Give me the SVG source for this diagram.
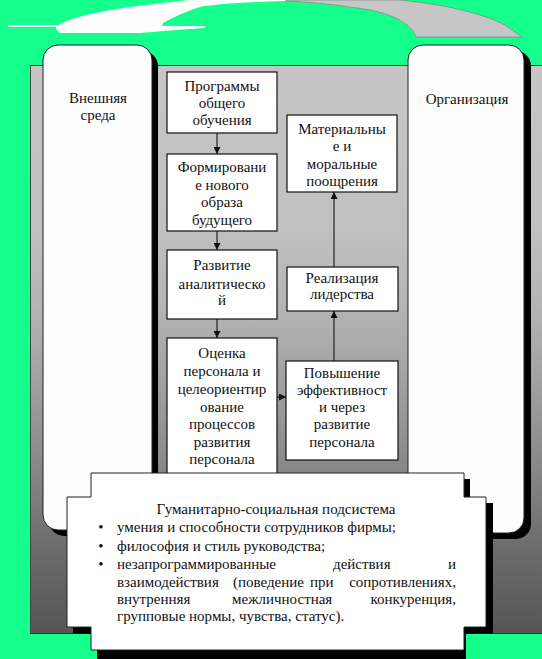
<svg xmlns="http://www.w3.org/2000/svg" width="542" height="659" viewBox="0 0 542 659">
<defs>
<linearGradient id="gr" gradientUnits="userSpaceOnUse" x1="0" y1="65" x2="0" y2="634">
<stop offset="0" stop-color="#c6c6c6"/>
<stop offset="0.29" stop-color="#c0c0c0"/>
<stop offset="0.42" stop-color="#b5b5b5"/>
<stop offset="0.59" stop-color="#9c9c9c"/>
<stop offset="0.71" stop-color="#878787"/>
<stop offset="0.85" stop-color="#6c6c6c"/>
<stop offset="1" stop-color="#555555"/>
</linearGradient>
<marker id="ah" viewBox="0 0 8 8" refX="8" refY="4" markerWidth="7" markerHeight="7" markerUnits="userSpaceOnUse" orient="auto"><path d="M0,0 L8,4 L0,8 z" fill="#111"/></marker>
</defs>
<style>
.t{font-family:"Liberation Serif","Times New Roman",serif;font-size:15px;fill:#111;text-anchor:middle}
.l{font-family:"Liberation Serif","Times New Roman",serif;font-size:15px;fill:#111}
.e{text-anchor:end}
.b{fill:#fff;stroke:#111;stroke-width:1.2}
.col{fill:#fdfdfd;stroke:#222;stroke-width:1}
.sh{fill:#000}
.c{stroke:#222;stroke-width:1.2;fill:none;marker-end:url(#ah)}
</style>
<rect width="542" height="659" fill="#14ff8c"/>
<g id="cloud">
<rect x="8" y="25" width="49" height="2" fill="#fdfdfd"/>
<path d="M56,27 C70,16 110,8 190,0 H286 V1 C250,2 215,4 200,7 C190,10 175,16 163,23 L162,26 H205 V28 C185,29 165,31 140,33 H60 C57,31 56,29 56,27 Z" fill="#fdfdfd"/>
<path d="M286,0 H400 C440,4 480,12 505,25 L522,37 H416 C412,25 395,15 370,10 C340,5 310,2 286,1 Z" fill="#c6c6c6" stroke="#777" stroke-width="0.6"/>
</g>
<g id="background">
<rect x="30" y="65" width="512" height="569" fill="url(#gr)"/>
<line x1="30" y1="65.5" x2="542" y2="65.5" stroke="#1a4a32" stroke-width="1"/>
<line x1="30.5" y1="65" x2="30.5" y2="634" stroke="#444" stroke-width="1"/>
<line x1="30" y1="633.5" x2="542" y2="633.5" stroke="#333" stroke-width="1"/>
</g>
<g id="external-env">
<rect class="sh" x="49" y="51" width="109" height="485" rx="15"/>
<rect class="col" x="43" y="45" width="109" height="485" rx="15"/>
<text class="t" x="98" y="103">Внешняя</text>
<text class="t" x="98" y="120">среда</text>
</g>
<g id="organization">
<rect class="sh" x="415" y="51" width="116" height="488" rx="15"/>
<rect class="col" x="408" y="45" width="116" height="488" rx="15"/>
<text class="t" x="467" y="104">Организация</text>
</g>
<g id="connectors">
<line class="c" x1="217" y1="133" x2="217" y2="154"/>
<line class="c" x1="217" y1="231" x2="217" y2="250"/>
<line class="c" x1="217" y1="319" x2="217" y2="338"/>
<line class="c" x1="277" y1="397" x2="286" y2="397"/>
<line class="c" x1="334" y1="361" x2="334" y2="311"/>
<line class="c" x1="334" y1="267" x2="334" y2="192"/>
</g>
<g id="n1">
<rect class="b" x="167" y="72" width="110" height="61"/>
<text class="t" x="222" y="91">Программы</text>
<text class="t" x="222" y="108">общего</text>
<text class="t" x="222" y="125">обучения</text>
</g>
<g id="n2">
<rect class="b" x="167" y="154" width="110" height="77"/>
<text class="t" x="222" y="172">Формировани</text>
<text class="t" x="222" y="190">е нового</text>
<text class="t" x="222" y="207">образа</text>
<text class="t" x="222" y="225">будущего</text>
</g>
<g id="n3">
<rect class="b" x="167" y="250" width="110" height="69"/>
<text class="t" x="222" y="270">Развитие</text>
<text class="t" x="222" y="289">аналитическо</text>
<text class="t" x="222" y="305">й</text>
</g>
<g id="n4">
<rect class="b" x="167" y="338" width="110" height="145"/>
<text class="t" x="222" y="358">Оценка</text>
<text class="t" x="222" y="376">персонала и</text>
<text class="t" x="222" y="394">целеориентир</text>
<text class="t" x="222" y="412">ование</text>
<text class="t" x="222" y="429">процессов</text>
<text class="t" x="222" y="447">развития</text>
<text class="t" x="222" y="464">персонала</text>
</g>
<g id="n5">
<rect class="b" x="286" y="361" width="112" height="99"/>
<text class="t" x="342" y="378">Повышение</text>
<text class="t" x="342" y="395">эффективност</text>
<text class="t" x="342" y="412">и через</text>
<text class="t" x="342" y="429">развитие</text>
<text class="t" x="342" y="447">персонала</text>
</g>
<g id="n6">
<rect class="b" x="287" y="267" width="111" height="44"/>
<text class="t" x="342" y="283">Реализация</text>
<text class="t" x="342" y="299">лидерства</text>
</g>
<g id="n7">
<rect class="b" x="287" y="115" width="110" height="77"/>
<text class="t" x="342" y="134">Материальны</text>
<text class="t" x="342" y="151">е и</text>
<text class="t" x="342" y="169">моральные</text>
<text class="t" x="342" y="186">поощрения</text>
</g>
<g id="subsystem">
<rect class="sh" x="97" y="479" width="373" height="155"/>
<rect class="sh" x="73" y="503" width="420" height="131"/>
<rect class="sh" x="97" y="634" width="369" height="25"/>
<path d="M91,473 H464 V497 H486 V627 H464 V650 H91 V627 H67 V497 H91 Z" fill="#fff" stroke="#222" stroke-width="1"/>
<text class="t" x="276" y="514">Гуманитарно-социальная подсистема</text>
<text class="t" x="101" y="532">•</text>
<text class="t" x="101" y="551">•</text>
<text class="t" x="101" y="569">•</text>
<text class="l" x="117" y="532">умения и способности сотрудников фирмы;</text>
<text class="l" x="117" y="551">философия и стиль руководства;</text>
<text class="l" x="117" y="569">незапрограммированные</text>
<text class="l" x="333" y="569">действия</text>
<text class="l e" x="456" y="569">и</text>
<text class="l" x="117" y="587">взаимодействия</text>
<text class="l" x="233" y="587">(поведение</text>
<text class="l" x="310" y="587">при</text>
<text class="l e" x="456" y="587">сопротивлениях,</text>
<text class="l" x="117" y="604">внутренняя</text>
<text class="l" x="232" y="604">межличностная</text>
<text class="l e" x="456" y="604">конкуренция,</text>
<text class="l" x="117" y="621">групповые нормы, чувства, статус).</text>
</g>
</svg>
